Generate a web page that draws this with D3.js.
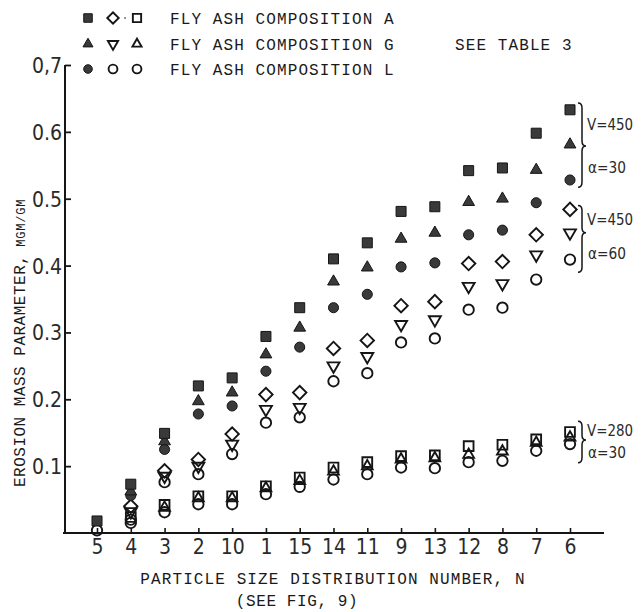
<!DOCTYPE html>
<html>
<head>
<meta charset="utf-8">
<script src="https://cdn.jsdelivr.net/npm/d3@7"></script>
<style>
  html, body { margin: 0; padding: 0; background: #fff; }
  svg { display: block; }
  .mono { font-family: "Liberation Mono", "DejaVu Sans Mono", monospace; fill: #1a1a1a; }
  .narrow { font-family: "DejaVu Sans Condensed", "Liberation Sans Narrow", "Liberation Sans", sans-serif; fill: #2a2a2a; }
</style>
</head>
<body>
<svg id="chart" width="641" height="612"></svg>
<script>
// ---------------- data ----------------
const categories = ["5","4","3","2","10","1","15","14","11","9","13","12","8","7","6"];
const yTicks = [0.1, 0.2, 0.3, 0.4, 0.5, 0.6, 0.7];

// V=450, alpha=30 (filled symbols)
const compA_v450_a30 = [0.018, 0.073, 0.149, 0.220, 0.232, 0.294, 0.337, 0.410, 0.434, 0.481, 0.488, 0.542, 0.546, 0.598, 0.633];
const compG_v450_a30 = [null,  0.062, 0.137, 0.197, 0.210, 0.267, 0.307, 0.376, 0.397, 0.440, 0.449, 0.495, 0.500, 0.543, 0.581];
const compL_v450_a30 = [null,  0.056, 0.125, 0.178, 0.190, 0.242, 0.278, 0.337, 0.357, 0.398, 0.404, 0.446, 0.453, 0.494, 0.528];
// V=450, alpha=60 (hollow diamond / inverted triangle / circle)
const compA_v450_a60 = [null,  0.040, 0.093, 0.110, 0.148, 0.207, 0.210, 0.276, 0.288, 0.340, 0.346, 0.403, 0.406, 0.446, 0.484];
const compG_v450_a60 = [null,  0.032, 0.085, 0.100, 0.133, 0.185, 0.188, 0.250, 0.264, 0.312, 0.319, 0.369, 0.373, 0.416, 0.449];
const compL_v450_a60 = [0.004, 0.020, 0.076, 0.088, 0.118, 0.165, 0.173, 0.227, 0.239, 0.285, 0.291, 0.334, 0.337, 0.379, 0.409];
// V=280, alpha=30 (hollow square / triangle / circle)
const compA_v280_a30 = [null,  0.024, 0.042, 0.055, 0.055, 0.070, 0.083, 0.098, 0.106, 0.115, 0.116, 0.130, 0.132, 0.140, 0.151];
const compG_v280_a30 = [null,  null,  0.038, 0.052, 0.052, 0.067, 0.078, 0.092, 0.100, 0.110, 0.112, 0.117, 0.122, 0.135, 0.143];
const compL_v280_a30 = [null,  0.015, 0.031, 0.043, 0.043, 0.058, 0.069, 0.080, 0.088, 0.098, 0.097, 0.106, 0.108, 0.123, 0.133];

const legendLabels = ["FLY ASH COMPOSITION A", "FLY ASH COMPOSITION G", "FLY ASH COMPOSITION L"];
const groupLabels = [
  {top: 0.643, bottom: 0.517, tip: 0.579, v: "V=450", a: "\u03b1=30"},
  {top: 0.490, bottom: 0.390, tip: 0.449, v: "V=450", a: "\u03b1=60"},
  {top: 0.167, bottom: 0.105, tip: 0.139, v: "V=280", a: "\u03b1=30"}
];

// ---------------- setup ----------------
const svg = d3.select("#chart");
const x = d3.scalePoint().domain(categories).range([97, 570]);
const y = d3.scaleLinear().domain([0, 0.7]).range([533, 65]);

const FILL = "#3a3a3a", INK = "#151515";

const sym = {
  fSquare:  {type: d3.symbolSquare,   size: 100, rot: 0,   filled: true},
  fTri:     {type: d3.symbolTriangle, size: 60,  rot: 0,   filled: true},
  fCircle:  {type: d3.symbolCircle,   size: 80,  rot: 0,   filled: true},
  hDiamond: {type: d3.symbolSquare,   size: 90,  rot: 45,  filled: false},
  hInvTri:  {type: d3.symbolTriangle, size: 62,  rot: 180, filled: false},
  hCircle:  {type: d3.symbolCircle,   size: 85,  rot: 0,   filled: false},
  hSquare:  {type: d3.symbolSquare,   size: 95,  rot: 0,   filled: false},
  hTri:     {type: d3.symbolTriangle, size: 50,  rot: 0,   filled: false}
};

function drawSym(g, spec, cx, cy, scale) {
  const s = scale || 1;
  g.append("path")
    .attr("d", d3.symbol().type(spec.type).size(spec.size * s * s)())
    .attr("transform", `translate(${cx},${cy}) rotate(${spec.rot})`)
    .attr("fill", spec.filled ? FILL : "none")
    .attr("stroke", INK)
    .attr("stroke-width", spec.filled ? 1 : 1.9)
    .attr("stroke-linejoin", "miter");
}

// ---------------- axes ----------------
const xAxis = d3.axisBottom(x).tickSize(-5).tickSizeOuter(0).tickPadding(6);
const gx = svg.append("g").attr("transform", "translate(0,533)").call(xAxis);
gx.select(".domain").remove();
gx.selectAll(".tick line").attr("stroke", INK).attr("stroke-width", 1.6);
gx.selectAll(".tick text").attr("class", "narrow").attr("font-size", 21).attr("fill", "#2a2a2a");
svg.append("line").attr("x1", 63).attr("x2", 604).attr("y1", 533).attr("y2", 533)
  .attr("stroke", INK).attr("stroke-width", 2);

const yAxis = d3.axisLeft(y).tickValues(yTicks).tickSize(-6).tickSizeOuter(0).tickPadding(3)
  .tickFormat(d => d === 0.7 ? "0,7" : d3.format(".1f")(d));
const gy = svg.append("g").attr("transform", "translate(65,0)").call(yAxis);
gy.select(".domain").remove();
gy.selectAll(".tick line").attr("stroke", INK).attr("stroke-width", 1.8);
gy.selectAll(".tick text").attr("class", "narrow").attr("font-size", 21).attr("fill", "#2a2a2a")
  .attr("x", -3).attr("dy", "0.36em");
svg.append("line").attr("x1", 65).attr("x2", 65).attr("y1", y(0.7)).attr("y2", 534)
  .attr("stroke", INK).attr("stroke-width", 2);

// axis titles
svg.append("text").attr("class", "mono").attr("font-size", 16).attr("letter-spacing", 1.1)
  .attr("x", 333).attr("y", 584).attr("text-anchor", "middle")
  .text("PARTICLE SIZE DISTRIBUTION NUMBER, N");
svg.append("text").attr("class", "mono").attr("font-size", 16).attr("letter-spacing", 0.6)
  .attr("x", 297).attr("y", 606).attr("text-anchor", "middle")
  .text("(SEE FIG, 9)");

const yt = svg.append("text").attr("class", "mono")
  .attr("transform", "translate(25,487) rotate(-90)")
  .attr("font-size", 16).attr("letter-spacing", 0.5);
yt.append("tspan").text("EROSION MASS PARAMETER,");
yt.append("tspan").attr("font-size", 12).attr("letter-spacing", 0.8).attr("dx", 8).text("MGM/GM");

// ---------------- data points ----------------
const series = [
  {vals: compL_v280_a30, spec: sym.hCircle},
  {vals: compA_v280_a30, spec: sym.hSquare},
  {vals: compG_v280_a30, spec: sym.hTri},
  {vals: compL_v450_a60, spec: sym.hCircle},
  {vals: compG_v450_a60, spec: sym.hInvTri},
  {vals: compA_v450_a60, spec: sym.hDiamond},
  {vals: compL_v450_a30, spec: sym.fCircle},
  {vals: compG_v450_a30, spec: sym.fTri},
  {vals: compA_v450_a30, spec: sym.fSquare}
];
const gp = svg.append("g");
series.forEach(s => {
  s.vals.forEach((v, i) => {
    if (v == null) return;
    drawSym(gp, s.spec, x(categories[i]), y(v));
  });
});

// ---------------- legend ----------------
const legendRows = [
  [sym.fSquare, sym.hDiamond, sym.hSquare],
  [sym.fTri, sym.hInvTri, sym.hTri],
  [sym.fCircle, sym.hCircle, sym.hCircle]
];
const rowY = [18, 44, 69];
const colX = [88, 113, 137];
const gl = svg.append("g");
legendRows.forEach((row, r) => {
  row.forEach((spec, c) => drawSym(gl, spec, colX[c], rowY[r], 0.85));
  gl.append("text").attr("class", "mono").attr("font-size", 16).attr("letter-spacing", 1.1)
    .attr("x", 170).attr("y", rowY[r]).attr("dy", "0.36em").text(legendLabels[r]);
});
gl.append("circle").attr("cx", 125).attr("cy", rowY[0]).attr("r", 0.8).attr("fill", INK);
gl.append("text").attr("class", "mono").attr("font-size", 16).attr("letter-spacing", 1.1)
  .attr("x", 455).attr("y", 44).attr("dy", "0.36em").text("SEE TABLE 3");

// ---------------- group braces ----------------
const ga = svg.append("g");
groupLabels.forEach(gd => {
  const y0 = y(gd.top), y1 = y(gd.bottom), ym = y(gd.tip);
  const xl = 578, xr = 586, xm = 582;
  const p = d3.path();
  p.moveTo(xl, y0);
  p.quadraticCurveTo(xm, y0, xm, y0 + 5);
  p.lineTo(xm, ym - 5);
  p.quadraticCurveTo(xm, ym, xr, ym);
  p.quadraticCurveTo(xm, ym, xm, ym + 5);
  p.lineTo(xm, y1 - 5);
  p.quadraticCurveTo(xm, y1, xl, y1);
  ga.append("path").attr("d", p.toString()).attr("fill", "none")
    .attr("stroke", INK).attr("stroke-width", 1.5);
  ga.append("text").attr("class", "narrow").attr("font-size", 16)
    .attr("x", 587).attr("y", (y0 + ym) / 2).attr("dy", "0.36em")
    .attr("textLength", 46).attr("lengthAdjust", "spacingAndGlyphs").text(gd.v);
  ga.append("text").attr("class", "narrow").attr("font-size", 16)
    .attr("x", 588).attr("y", (ym + y1) / 2).attr("dy", "0.4em")
    .attr("textLength", 38).attr("lengthAdjust", "spacingAndGlyphs").text(gd.a);
});
</script>
</body>
</html>
